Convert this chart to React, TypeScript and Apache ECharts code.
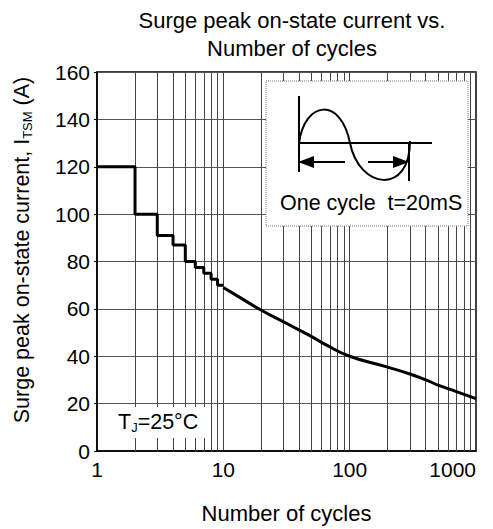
import React, { useEffect, useRef } from 'react';
import * as echarts from 'echarts';

// Step part: integer cycle counts (1..10)
const stepCycles = [1, 2, 3, 4, 5, 6, 7, 8, 9, 10];
const stepCurrent = [120, 100, 91, 87, 80, 77.5, 75, 72.5, 70, 70];

// Continuous part: 10..1000 cycles
const curveCycles = [10, 12.7, 20, 30, 40, 50, 64, 100, 200, 300, 428, 500, 690, 1000];
const curveCurrent = [69, 65.7, 59.4, 54.5, 51, 48.3, 45, 40, 35.4, 32.5, 29.4, 27.8, 25.2, 22.1];

// Minor vertical grid lines of the log axis
const minorGridCycles = [2, 3, 4, 5, 6, 7, 8, 9, 20, 30, 40, 50, 60, 70, 80, 90, 200, 300, 400, 500, 600, 700, 800, 900];

const xTickLabels = ['1', '10', '100', '1000'];
const yMin = 0;
const yMax = 160;
const yInterval = 20;

const FONT = '"Liberation Sans", Arial, Helvetica, sans-serif';

export default function App() {
  const ref = useRef<HTMLDivElement>(null);

  useEffect(() => {
    if (!ref.current) return;
    const chart = echarts.init(ref.current, undefined, { renderer: 'svg' });

    const option: any = {
      animation: false,
      backgroundColor: '#fff',
      textStyle: { fontFamily: FONT },
      title: {
        text: 'Surge peak on-state current vs.\nNumber of cycles',
        left: 287,
        top: 1,
        textAlign: 'center',
        textStyle: {
          fontFamily: FONT,
          fontSize: 22,
          fontWeight: 'normal',
          color: '#000',
          lineHeight: 28,
        },
      },
      grid: {
        left: 97,
        top: 72,
        width: 379,
        height: 381,
        show: true,
        borderColor: '#000',
        borderWidth: 1.5,
        backgroundColor: 'transparent',
      },
      xAxis: {
        type: 'log',
        logBase: 10,
        min: 1,
        max: 1000,
        name: 'Number of cycles',
        nameLocation: 'middle',
        nameGap: 51,
        nameTextStyle: { fontFamily: FONT, fontSize: 22, color: '#000' },
        axisLine: { show: true, lineStyle: { color: '#000', width: 1.5 } },
        axisTick: { show: false },
        axisLabel: {
          fontFamily: FONT,
          fontSize: 21,
          color: '#000',
          margin: 8,
          alignMaxLabel: 'right',
          formatter: (v: number) => {
            const s = String(Math.round(v));
            return xTickLabels.indexOf(s) >= 0 ? s : '';
          },
        },
        splitLine: { show: true, lineStyle: { color: '#444', width: 1 } },
      },
      yAxis: {
        type: 'value',
        min: yMin,
        max: yMax,
        interval: yInterval,
        axisLine: { show: true, lineStyle: { color: '#000', width: 1.5 } },
        axisTick: { show: true, length: 3, lineStyle: { color: '#000' } },
        axisLabel: { fontFamily: FONT, fontSize: 21, color: '#000', margin: 7 },
        splitLine: { show: true, lineStyle: { color: '#555', width: 1 } },
      },
      series: [
        {
          type: 'line',
          name: 'grid',
          data: [],
          silent: true,
          markLine: {
            silent: true,
            symbol: 'none',
            label: { show: false },
            lineStyle: { color: '#444', width: 1, type: 'solid' },
            data: minorGridCycles.map((v) => ({ xAxis: v })),
          },
          z: 1,
        },
        {
          type: 'line',
          name: 'steps',
          step: 'end',
          showSymbol: false,
          symbol: 'none',
          data: stepCycles.map((c, i) => [c, stepCurrent[i]]),
          lineStyle: { color: '#000', width: 3 },
          z: 5,
        },
        {
          type: 'line',
          name: 'curve',
          smooth: 0.5,
          showSymbol: false,
          symbol: 'none',
          data: curveCycles.map((c, i) => [c, curveCurrent[i]]),
          lineStyle: { color: '#000', width: 3 },
          z: 5,
        },
      ],
      graphic: [
        // Y axis title (rotated)
        {
          type: 'text',
          x: 22,
          y: 250,
          rotation: Math.PI / 2,
          z: 60,
          style: {
            text: '{a|Surge peak on-state current, I}{s|TSM}{a| (A)}',
            align: 'center',
            verticalAlign: 'middle',
            fill: '#000',
            rich: {
              a: { fontFamily: FONT, fontSize: 21.5, fill: '#000', lineHeight: 24 },
              s: { fontFamily: FONT, fontSize: 13, fill: '#000', lineHeight: 13, verticalAlign: 'bottom' },
            },
          },
        },
        // TJ label box
        {
          type: 'rect',
          z: 50,
          shape: { x: 99, y: 407, width: 111, height: 31 },
          style: { fill: '#fff', stroke: 'none' },
        },
        {
          type: 'text',
          x: 118,
          y: 422,
          z: 51,
          style: {
            text: '{a|T}{s|J}{a|=25°C}',
            align: 'left',
            verticalAlign: 'middle',
            fill: '#000',
            rich: {
              a: { fontFamily: FONT, fontSize: 21.5, fill: '#000', lineHeight: 24 },
              s: { fontFamily: FONT, fontSize: 13, fill: '#000', lineHeight: 13, verticalAlign: 'bottom' },
            },
          },
        },
        // Inset box
        {
          type: 'rect',
          z: 50,
          shape: { x: 266, y: 81, width: 202, height: 145 },
          style: { fill: '#fff', stroke: '#777', lineWidth: 1, lineDash: [1, 1] },
        },
        {
          type: 'line',
          z: 51,
          shape: { x1: 299, y1: 96, x2: 299, y2: 172 },
          style: { stroke: '#000', lineWidth: 2 },
        },
        {
          type: 'line',
          z: 51,
          shape: { x1: 299, y1: 143, x2: 432, y2: 143 },
          style: { stroke: '#000', lineWidth: 2 },
        },
        {
          type: 'bezierCurve',
          z: 51,
          shape: { x1: 299, y1: 143, cpx1: 305, cpy1: 100, cpx2: 341, cpy2: 97, x2: 350, y2: 143 },
          style: { stroke: '#000', lineWidth: 2, fill: 'none' },
        },
        {
          type: 'bezierCurve',
          z: 51,
          shape: { x1: 350, y1: 143, cpx1: 359, cpy1: 189, cpx2: 410, cpy2: 196, x2: 410, y2: 141 },
          style: { stroke: '#000', lineWidth: 2, fill: 'none' },
        },
        {
          type: 'line',
          z: 51,
          shape: { x1: 409, y1: 143, x2: 409, y2: 181 },
          style: { stroke: '#000', lineWidth: 2 },
        },
        {
          type: 'line',
          z: 51,
          shape: { x1: 308, y1: 162, x2: 345, y2: 162 },
          style: { stroke: '#000', lineWidth: 2 },
        },
        {
          type: 'polygon',
          z: 51,
          shape: { points: [[298, 162], [314, 156], [314, 168]] },
          style: { fill: '#000' },
        },
        {
          type: 'line',
          z: 51,
          shape: { x1: 368, y1: 162, x2: 400, y2: 162 },
          style: { stroke: '#000', lineWidth: 2 },
        },
        {
          type: 'polygon',
          z: 51,
          shape: { points: [[409, 162], [393, 156], [393, 168]] },
          style: { fill: '#000' },
        },
        {
          type: 'text',
          x: 280,
          y: 203,
          z: 52,
          style: {
            text: 'One cycle\u00a0 t=20mS',
            align: 'left',
            verticalAlign: 'middle',
            fill: '#000',
            font: `21.5px ${FONT}`,
          },
        },
      ],
    };

    chart.setOption(option);
    return () => {
      chart.dispose();
    };
  }, []);

  return (
    <div
      ref={ref}
      style={{ position: 'fixed', left: 0, top: 0, width: 493, height: 529 }}
    />
  );
}
